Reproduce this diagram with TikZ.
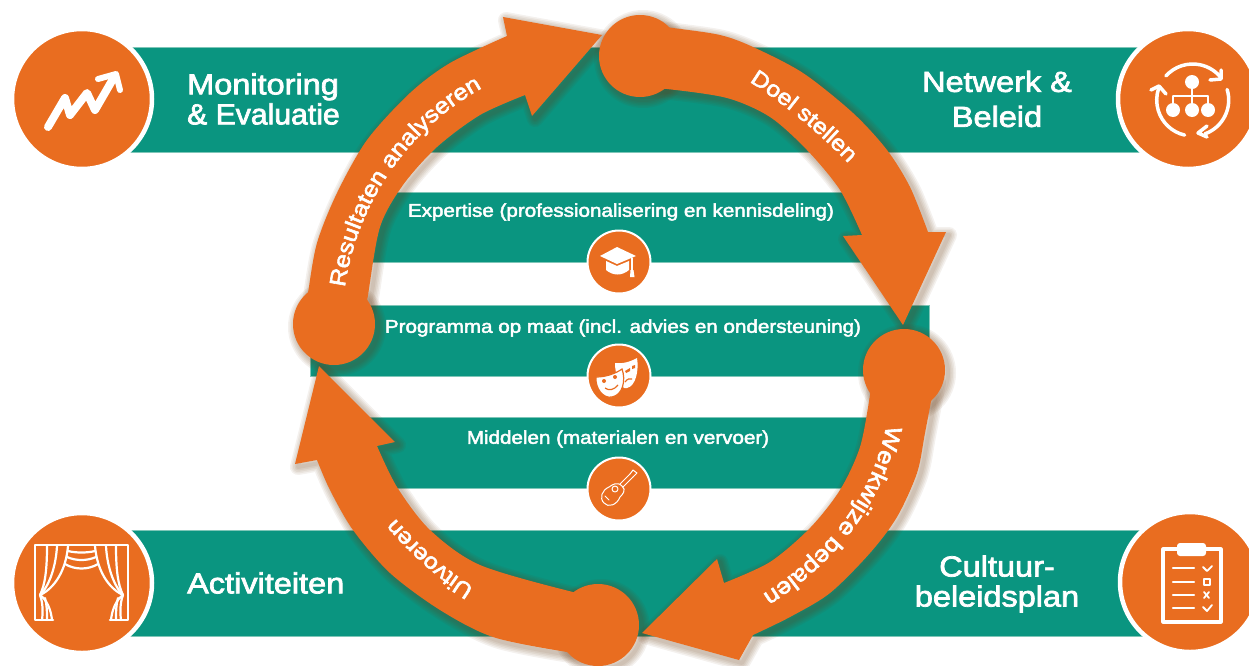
\documentclass[tikz,border=0pt]{standalone}
\usepackage{fontspec}
\setmainfont[FakeBold=2.5,FakeStretch=1.12]{Liberation Sans}
\usetikzlibrary{decorations.text}
\definecolor{bandteal}{HTML}{0A9580}
\definecolor{bandedge}{HTML}{7FC6B8}
\definecolor{cycleorange}{HTML}{E96D20}
\definecolor{shadowbrown}{HTML}{6A3A14}

\newcommand{\doelarrow}{plot[smooth] coordinates {(640,24) (673,28) (720,35) (753,47) (803,73) (853,113) (887,150) (910,187) (928,232)} -- (946,232) -- (903,325) -- (843,236) -- (862,235) -- plot[smooth] coordinates {(862,235) (840,190) (807,150) (770,117) (727,98) (667,89) (640,88)} -- cycle}
\newcommand{\werkarrow}{plot[smooth] coordinates {(935,380) (925,433) (917,473) (897,517) (870,553) (830,593) (790,617) (753,635)} -- (739,660) -- (642,633) -- (717,559) -- (724,583) -- plot[smooth] coordinates {(724,583) (770,562) (810,528) (840,490) (860,447) (870,395) (872,375)} -- cycle}
\newcommand{\uitarrow}{plot[smooth] coordinates {(600,655) (567,652) (493,637) (440,610) (390,573) (353,530) (330,490) (317,460)} -- (295,464) -- (319,366) -- (395,442) -- (377,446) -- plot[smooth] coordinates {(377,446) (397,487) (430,530) (480,565) (573,592) (600,595)} -- cycle}
\newcommand{\resarrow}{plot[smooth] coordinates {(304,320) (308,293) (317,243) (337,193) (367,140) (410,93) (450,63) (507,36)} -- (503,17) -- (602,35) -- (532,116) -- (525,95) -- plot[smooth] coordinates {(525,95) (480,115) (437,147) (403,185) (380,227) (368,295) (364,320)} -- cycle}
\newcommand{\castshadow}[1]{\foreach \w in {16,13,10,7,4} {\path[softshadow,line width=\w pt] #1;}}

\tikzset{
	bandbox/.style={fill=bandteal,draw=bandedge,line width=0.6pt},
	bigdot/.style={circle,fill=cycleorange,draw=white,line width=4.5pt,minimum size=140pt,inner sep=0pt},
	smalldot/.style={circle,fill=cycleorange,draw=white,line width=2pt,minimum size=63pt,inner sep=0pt},
	softshadow/.style={draw=shadowbrown,draw opacity=0.07,line join=round,xshift=3pt,yshift=-3pt},
	hubdot/.style={circle,fill=cycleorange,minimum size=82pt,inner sep=0pt},
	bandlabel/.style={text=white,inner sep=0pt,align=center,font=\fontsize{29}{30}\selectfont},
	rowlabel/.style={text=white,inner sep=0pt,font=\fontsize{18.4}{22}\selectfont},
	arrowfill/.style={fill=cycleorange},
	arrowtext/.style 2 args={postaction={decorate},decoration={text along path,text align=center,text color=white,text={|\fontsize{#1}{#1}\selectfont|#2}}},
	iconline/.style={draw=white,line width=#1,line cap=round,line join=round},
	iconline/.default=2pt
}

\begin{document}
\begin{tikzpicture}[x=1pt,y=-1pt]
	\useasboundingbox (0,0) rectangle (1249,665);
	\fill[white] (0,0) rectangle (1249,665);

	\path[bandbox] (100,47) rectangle (1160,152);
	\path[bandbox] (100,530) rectangle (1160,636);
	\path[bandbox] (345,192) rectangle (880,262);
	\path[bandbox] (310,305) rectangle (929,376);
	\path[bandbox] (360,417) rectangle (880,488);

	\node[bigdot] (chartdot) at (82,99) {};
	\node[bigdot] (netdot) at (1188,99) {};
	\node[bigdot] (curtaindot) at (82,583) {};
	\node[bigdot] (plandot) at (1190,582) {};
	\node[smalldot] (capdot) at (619,262) {};
	\node[smalldot] (maskdot) at (619,376) {};
	\node[smalldot] (guitardot) at (619,489) {};

	\node[bandlabel,align=left,anchor=west] (monitoring) at (187,99) {Monitoring\\\addfontfeature{FakeStretch=1.04}\& Evaluatie};
	\node[bandlabel,font=\fontsize{29}{35}\selectfont] (netwerk) at (997,99) {Netwerk \&\\Beleid};
	\node[bandlabel,anchor=west] (activiteiten) at (187,583) {Activiteiten};
	\node[bandlabel] (cultuur) at (997,584) {Cultuur-\\beleidsplan};
	\node[rowlabel] (expertise) at (621,212) {Expertise (professionalisering en kennisdeling)};
	\node[rowlabel] (programma) at (623,328) {Programma op maat (incl. advies en ondersteuning)};
	\node[rowlabel] (middelen) at (618,439) {Middelen (materialen en vervoer)};

	\castshadow{\doelarrow}
	\castshadow{\werkarrow}
	\castshadow{\uitarrow}
	\castshadow{\resarrow}
	\castshadow{(640,56) circle[radius=41pt]}
	\castshadow{(904,370) circle[radius=41pt]}
	\castshadow{(598,625) circle[radius=41pt]}
	\castshadow{(334,324) circle[radius=41pt]}
	\node[hubdot] (topblob) at (640,56) {};
	\node[hubdot] (rightblob) at (904,370) {};
	\node[hubdot] (bottomblob) at (598,625) {};
	\node[hubdot] (leftblob) at (334,324) {};
	\path[arrowfill] \doelarrow;
	\path[arrowfill] \werkarrow;
	\path[arrowfill] \uitarrow;
	\path[arrowfill] \resarrow;

	\path[arrowtext={22}{Doel stellen}] (745,79) .. controls (780,100) and (822,135) .. (852,167);
	\path[arrowtext={23}{Werkwijze bepalen}] (887,422) .. controls (875,490) and (832,552) .. (760,596);
	\path[arrowtext={22}{Uitvoeren}] (477,589) .. controls (445,570) and (418,545) .. (393,516);
	\path[arrowtext={22.5}{Resultaten analyseren}] (344,294) .. controls (354,205) and (410,125) .. (488,85);

	\draw[iconline=8pt] (48,127) -- (65,98) -- (70,115) -- (87,93) -- (95,110) -- (113,79);
	\draw[iconline=6pt] (98,79) -- (116,74) -- (120,90);

	\foreach \x in {1173,1192,1208} {
		\fill[white] (\x,110) circle[radius=7pt];
		\draw[iconline=1.2pt] (\x,96) -- (\x,110);
	}
	\fill[white] (1192,82) circle[radius=7pt];
	\draw[iconline=1.2pt] (1192,82) -- (1192,96);
	\draw[iconline=1.2pt] (1173,96) -- (1208,96);
	\draw[iconline=3.5pt] (1192.7,100) ++(138:36pt) arc[start angle=138,end angle=38,radius=36pt];
	\draw[iconline=3.5pt] (1192.7,100) ++(257:36pt) arc[start angle=257,end angle=161,radius=36pt];
	\draw[iconline=3.5pt] (1192.7,100) ++(17:36pt) arc[start angle=17,end angle=-70,radius=36pt];
	\draw[iconline=3.5pt] (1210,80) -- (1221,79) -- (1221,70);
	\draw[iconline=3.5pt] (1151,90) -- (1159,86) -- (1166,94);
	\draw[iconline=3.5pt] (1207,126) -- (1198,133) -- (1207,137);

	\foreach \shiftx/\flip in {0/1,163/-1} {
		\begin{scope}[xshift=\shiftx pt,xscale=\flip]
			\draw[iconline=2.6pt] (81.5,545) -- (35,545) -- (35,620) -- (53,620);
			\draw[iconline=2.2pt] (47,546) .. controls (47,570) and (45,585) .. (40,595);
			\draw[iconline=2.2pt] (57,546) .. controls (56,565) and (50,585) .. (40,595);
			\draw[iconline=2.2pt] (68,546) .. controls (66,570) and (55,588) .. (40,595);
			\draw[iconline=2.2pt] (40,595) .. controls (47,600) and (51,610) .. (52,620);
			\draw[iconline=2.2pt] (40,595) .. controls (43,603) and (43,612) .. (42,620);
			\draw[iconline=2.2pt] (45,598) .. controls (47,605) and (47,612) .. (47,620);
		\end{scope}
	}
	\draw[iconline=2.2pt] (68,551) .. controls (76,553) and (87,553) .. (95,551);
	\draw[iconline=2.2pt] (67,557) .. controls (76,561) and (87,561) .. (96,557);
	\draw[iconline=2.2pt] (65,564) .. controls (75,570) and (88,570) .. (98,564);

	\draw[iconline=3.2pt] (1177,549) -- (1163,549) -- (1163,622) -- (1221,622) -- (1221,549) -- (1206,549);
	\fill[white,rounded corners=3pt] (1177,543) rectangle (1206,556);
	\foreach \y in {568,582,595,608} {
		\draw[iconline=2.4pt] (1173,\y) -- (1194,\y);
	}
	\draw[iconline=1.8pt] (1203,567) -- (1207,571) -- (1212,566);
	\draw[iconline=1.8pt] (1204,579) rectangle (1210,585);
	\draw[iconline=1.8pt] (1204,592) -- (1209,598);
	\draw[iconline=1.8pt] (1209,592) -- (1204,598);
	\draw[iconline=1.8pt] (1203,607) -- (1207,611) -- (1212,605);

	\fill[white] (600,256) -- (617,247) -- (636,256) -- (617,264) -- cycle;
	\fill[white] (606,261) -- (617,266) -- (629,261) -- (629,270) .. controls (622,276) and (613,276) .. (606,270) -- cycle;
	\draw[iconline=1.2pt] (632,258) -- (632,270);
	\fill[white] (630.5,270) -- (633.5,270) -- (634.5,277) -- (630,277) -- cycle;

	\fill[white] (615,363) .. controls (622,364) and (630,362) .. (637,358) .. controls (639,370) and (636,386) .. (627,388) .. controls (620,390) and (615,375) .. (615,363) -- cycle;
	\fill[cycleorange] (625,371) -- (630,368) -- (630,371) -- (626,373) -- cycle;
	\fill[cycleorange] (632,366) -- (635,365) -- (635,368) -- (632,369) -- cycle;
	\draw[cycleorange,line width=1.2pt] (625,382) .. controls (627,379) and (630,378) .. (632,379);
	\draw[fill=white,draw=cycleorange,line width=1.2pt] (596,377) .. controls (605,377) and (615,374) .. (622,369) .. controls (626,380) and (623,395) .. (612,397) .. controls (603,399) and (595,388) .. (596,377) -- cycle;
	\fill[cycleorange] (604,381) circle[radius=2pt];
	\fill[cycleorange] (615,377) circle[radius=2pt];
	\draw[cycleorange,line width=1.2pt] (605,388) .. controls (609,391) and (614,390) .. (618,385);

	\draw[iconline=1pt] (622,486) .. controls (627,490) and (622,495) .. (620,497) .. controls (617,505) and (608,508) .. (604,503) .. controls (599,498) and (602,490) .. (609,487) .. controls (612,485) and (617,481) .. (622,486) -- cycle;
	\draw[iconline=1pt] (615,489) circle[radius=3pt];
	\draw[iconline=1pt] (620,484) -- (630,474);
	\draw[iconline=1pt] (623,487) -- (633,477);
	\draw[iconline=1pt] (630,474) -- (633,470) -- (637,473) -- (633,477);
	\draw[iconline=1pt] (605,496) -- (609,500);
\end{tikzpicture}
\end{document}
